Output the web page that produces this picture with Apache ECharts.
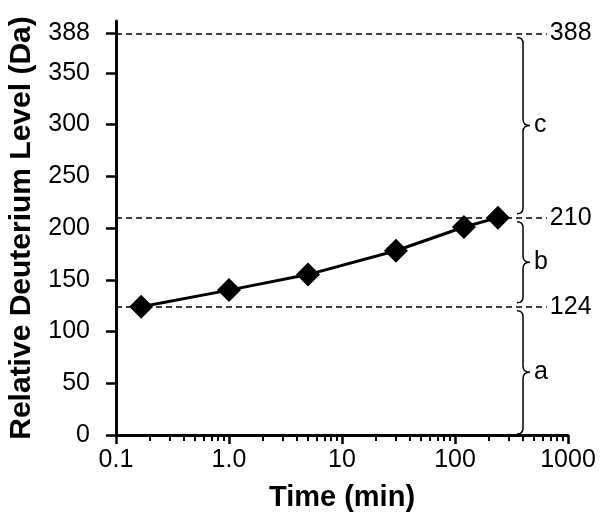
<!DOCTYPE html>
<html>
<head>
<meta charset="utf-8">
<script src="https://cdn.jsdelivr.net/npm/echarts@6/dist/echarts.min.js"></script>
<style>
html,body{margin:0;padding:0;background:#fff;}
#chart{width:600px;height:519px;}
</style>
</head>
<body>
<div id="chart"></div>
<script>
// ---- data ----
const timeMin = [0.167, 1, 5, 30, 120, 240];
const deutLevel = [124, 140, 155, 178, 201, 210];
const xTickValues = [0.1, 1, 10, 100, 1000];
const xTickLabels = ['0.1', '1.0', '10', '100', '1000'];
const xMinorTicks = [0.2,0.3,0.4,0.5,0.6,0.7,0.8,0.9, 2,3,4,5,6,7,8,9, 20,30,40,50,60,70,80,90, 200,300,400,500,600,700,800,900];
const yTickValues = [0, 50, 100, 150, 200, 250, 300, 350, 388];
const levelValues = [388, 210, 124];
const levelLineEnd = 650;
const braceRanges = [[0, 124], [124, 210], [210, 388]];
const braceLabels = ['a', 'b', 'c'];
const braceX = 400;

const FONT = "'Liberation Sans', Arial, Helvetica, sans-serif";
const chart = echarts.init(document.getElementById('chart'), null, {renderer: 'canvas'});

function renderBrace(params, api) {
  const lo = api.value(0), hi = api.value(1);
  const p1 = api.coord([api.value(2), hi]);
  const p2 = api.coord([api.value(2), lo]);
  const x = p1[0];
  const y1 = p1[1] + 4;
  const y2 = p2[1] - (lo > 0 ? 4 : 1);
  const ym = (y1 + y2) / 2;
  const w = 6, r = 6;
  const d = 'M' + (x - w) + ' ' + y1 +
    ' Q' + x + ' ' + y1 + ' ' + x + ' ' + (y1 + r) +
    ' L' + x + ' ' + (ym - r) +
    ' Q' + x + ' ' + ym + ' ' + (x + w + 1) + ' ' + ym +
    ' Q' + x + ' ' + ym + ' ' + x + ' ' + (ym + r) +
    ' L' + x + ' ' + (y2 - r) +
    ' Q' + x + ' ' + y2 + ' ' + (x - w) + ' ' + y2;
  return {
    type: 'group',
    children: [
      {type: 'path', shape: {pathData: d}, style: {fill: 'none', stroke: '#000', lineWidth: 1.5}},
      {type: 'text', style: {text: braceLabels[params.dataIndex], x: x + 11, y: ym, verticalAlign: 'middle', align: 'left', fontSize: 25, fontFamily: FONT, fill: '#000'}}
    ]
  };
}

const option = {
  animation: false,
  backgroundColor: '#fff',
  grid: {left: 116, right: 32, top: 21, bottom: 84, containLabel: false, outerBoundsMode: 'none'},
  xAxis: [{
    type: 'log', logBase: 10, min: 0.1, max: 1000, position: 'bottom',
    name: 'Time (min)', nameLocation: 'middle', nameGap: 48,
    nameTextStyle: {fontSize: 29, fontWeight: 'bold', fontFamily: FONT, color: '#000'},
    axisLine: {show: true, lineStyle: {color: '#000', width: 3}},
    axisTick: {show: true, inside: false, length: 9, lineStyle: {color: '#000', width: 2.5}},
    axisLabel: {show: true, margin: 13, fontSize: 25, fontFamily: FONT, color: '#000',
      formatter: function (v) { const i = xTickValues.findIndex(t => Math.abs(Math.log10(t) - Math.log10(v)) < 1e-6); return i >= 0 ? xTickLabels[i] : ''; }},
    splitLine: {show: false}, minorTick: {show: false}
  }, {
    type: 'log', logBase: 10, min: 0.1, max: 1000, position: 'bottom', offset: 0,
    axisLine: {show: false},
    axisTick: {show: true, inside: false, length: 6, customValues: xMinorTicks, lineStyle: {color: '#000', width: 2}},
    axisLabel: {show: false},
    splitLine: {show: false}
  }],
  yAxis: {
    type: 'value', min: 0, max: 400,
    name: 'Relative Deuterium Level (Da)', nameLocation: 'middle', nameGap: 79,
    nameTextStyle: {fontSize: 30, fontWeight: 'bold', fontFamily: FONT, color: '#000'},
    axisLine: {show: true, lineStyle: {color: '#000', width: 3}},
    axisTick: {show: true, inside: false, length: 10, customValues: yTickValues, lineStyle: {color: '#000', width: 2.5}},
    axisLabel: {show: true, margin: 26, fontSize: 25, fontFamily: FONT, color: '#000', customValues: yTickValues},
    splitLine: {show: false}
  },
  series: [{
    type: 'line',
    data: timeMin.map((t, i) => [t, deutLevel[i]]),
    symbol: 'diamond', symbolSize: 24,
    lineStyle: {color: '#000', width: 3},
    itemStyle: {color: '#000'},
    z: 5,
    markLine: {
      silent: true, symbol: ['none', 'none'],
      lineStyle: {color: '#000', type: [6, 4], width: 1.5},
      label: {show: true, position: 'end', distance: 3, formatter: '{b}', fontSize: 25, fontFamily: FONT, color: '#000'},
      data: levelValues.map(v => [{coord: [0.1, v], name: String(v)}, {coord: [levelLineEnd, v]}])
    }
  }, {
    type: 'custom',
    renderItem: renderBrace,
    data: braceRanges.map(r => [r[0], r[1], braceX]),
    encode: {x: 2, y: [0, 1]},
    z: 3
  }]
};
chart.setOption(option);
</script>
</body>
</html>
